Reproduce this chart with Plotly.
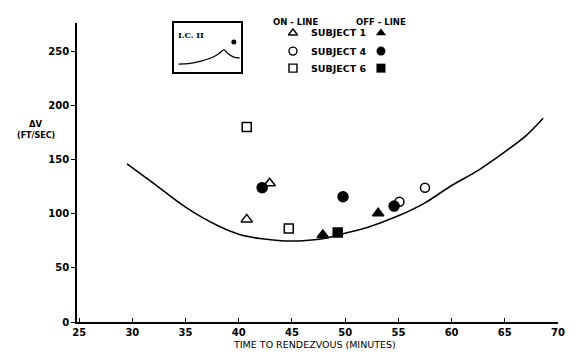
import plotly.graph_objects as go

# ---- data ----
curve_x = [29.5, 32, 35, 38, 40, 42, 44, 46, 48, 50, 52, 55, 57.5, 60, 62.5, 65, 67, 68.6]
curve_y = [146, 128, 106, 89, 81, 77, 75, 75, 77, 82, 87, 98, 110, 126, 140, 157, 172, 188]

s1_on_x = [40.75, 42.9]
s1_on_y = [94.7, 128]
s4_on_x = [55.1, 57.5]
s4_on_y = [111, 124]
s6_on_x = [40.75, 44.7]
s6_on_y = [180, 86.4]

s1_off_x = [47.9, 53.1]
s1_off_y = [80.3, 100.3]
s4_off_x = [42.2, 49.8, 54.6]
s4_off_y = [124, 115.6, 107]
s6_off_x = [49.3]
s6_off_y = [82.7]

x_ticks = [25, 30, 35, 40, 45, 50, 55, 60, 65, 70]
y_ticks = [0, 50, 100, 150, 200, 250]

# inset sketch (I.C. II)
inset_x = [0.74, 2.2, 4.1, 5.9, 6.9, 7.5, 8.2, 9.0, 9.85]
inset_y = [1.63, 1.73, 2.24, 3.06, 3.9, 4.5, 3.67, 3.06, 2.86]
inset_dot_x = [9.0]
inset_dot_y = [6.1]

subjects = ["SUBJECT 1", "SUBJECT 4", "SUBJECT 6"]
on_symbols = ["triangle-up-open", "circle-open", "square-open"]
off_symbols = ["triangle-up", "circle", "square"]

FONT = "DejaVu Sans"
fig = go.Figure()

fig.add_trace(go.Scatter(x=curve_x, y=curve_y, mode="lines",
                         line=dict(color="black", width=1.6, shape="spline"),
                         showlegend=False, hoverinfo="skip"))

def add_pts(x, y, sym, size):
    fig.add_trace(go.Scatter(x=x, y=y, mode="markers",
                             marker=dict(symbol=sym, size=size, color="black",
                                         line=dict(color="black", width=1.5)),
                             showlegend=False))

add_pts(s1_on_x, s1_on_y, "triangle-up-open", 10)
add_pts(s4_on_x, s4_on_y, "circle-open", 9)
add_pts(s6_on_x, s6_on_y, "square-open", 9)
add_pts(s1_off_x, s1_off_y, "triangle-up", 10)
add_pts(s4_off_x, s4_off_y, "circle", 10)
add_pts(s6_off_x, s6_off_y, "square", 9)

# inset
fig.add_trace(go.Scatter(x=inset_x, y=inset_y, mode="lines", xaxis="x2", yaxis="y2",
                         line=dict(color="black", width=1.3, shape="spline"),
                         showlegend=False, hoverinfo="skip"))
fig.add_trace(go.Scatter(x=inset_dot_x, y=inset_dot_y, mode="markers", xaxis="x2", yaxis="y2",
                         marker=dict(color="black", size=5), showlegend=False))

# legend glyphs on overlay axis
leg_rows = [0.9666, 0.906, 0.849]
for i in range(3):
    fig.add_trace(go.Scatter(x=[0.449], y=[leg_rows[i]], mode="markers", xaxis="x3", yaxis="y3",
                             marker=dict(symbol=on_symbols[i], size=8, color="black",
                                         line=dict(color="black", width=1.4)),
                             showlegend=False, hoverinfo="skip"))
    fig.add_trace(go.Scatter(x=[0.632], y=[leg_rows[i]], mode="markers", xaxis="x3", yaxis="y3",
                             marker=dict(symbol=off_symbols[i], size=9, color="black"),
                             showlegend=False, hoverinfo="skip"))

annotations = []
for i in range(3):
    annotations.append(dict(x=0.4816, y=leg_rows[i], xref="paper", yref="paper",
                            text=subjects[i], showarrow=False, xanchor="left", yanchor="middle",
                            font=dict(family=FONT, size=9.5, color="black", weight="bold")))
annotations.append(dict(x=0.455, y=1.027, xref="paper", yref="paper", text="ON - LINE",
                        xanchor="center", showarrow=False,
                        font=dict(family=FONT, size=8.5, color="black", weight="bold")))
annotations.append(dict(x=0.632, y=1.027, xref="paper", yref="paper", text="OFF - LINE",
                        xanchor="center", showarrow=False,
                        font=dict(family=FONT, size=8.5, color="black", weight="bold")))
annotations.append(dict(x=0.3, y=7.55, xref="x2", yref="y2", text="<b>I.C. II</b>", xanchor="left",
                        showarrow=False, font=dict(family="DejaVu Serif", size=8, color="black")))
annotations.append(dict(x=-0.086, y=0.663, xref="paper", yref="paper", text="ΔV",
                        xanchor="center", showarrow=False,
                        font=dict(family=FONT, size=8.5, color="black", weight="bold")))
annotations.append(dict(x=-0.086, y=0.625, xref="paper", yref="paper", text="(FT/SEC)",
                        xanchor="center", showarrow=False,
                        font=dict(family=FONT, size=8, color="black", weight="bold")))
annotations.append(dict(x=0.494, y=-0.0736, xref="paper", yref="paper",
                        text="TIME TO RENDEZVOUS (MINUTES)", xanchor="center", yanchor="middle",
                        showarrow=False, font=dict(family=FONT, size=9.5, color="black")))

fig.update_layout(
    width=577, height=354,
    margin=dict(l=77, r=12, t=23, b=32),
    paper_bgcolor="white", plot_bgcolor="white",
    showlegend=False,
    annotations=annotations,
    xaxis=dict(range=[24.8, 70], tickvals=x_ticks, ticktext=[str(v) for v in x_ticks],
               showgrid=False, zeroline=False, showline=True, linecolor="black", linewidth=1.6,
               ticks="inside", ticklen=4, tickcolor="black", tickwidth=1.3,
               tickfont=dict(family=FONT, size=10, color="black", weight="bold")),
    yaxis=dict(range=[0, 276], tickvals=y_ticks, ticktext=[str(v) for v in y_ticks],
               showgrid=False, zeroline=False, showline=True, linecolor="black", linewidth=1.6,
               ticks="outside", ticklen=4, tickcolor="black", tickwidth=1.3,
               tickfont=dict(family=FONT, size=10, color="black", weight="bold")),
    xaxis2=dict(domain=[0.201, 0.340], range=[0, 10], anchor="y2", showgrid=False, zeroline=False,
                showticklabels=False, showline=True, mirror=True, linecolor="black", linewidth=1.5),
    yaxis2=dict(domain=[0.836, 1.0], range=[0, 10], anchor="x2", showgrid=False, zeroline=False,
                showticklabels=False, showline=True, mirror=True, linecolor="black", linewidth=1.5),
    xaxis3=dict(domain=[0, 1], range=[0, 1], anchor="y3", overlaying="x", visible=False),
    yaxis3=dict(domain=[0, 1], range=[0, 1], anchor="x3", overlaying="y", visible=False),
)

fig.write_html("out.html")
